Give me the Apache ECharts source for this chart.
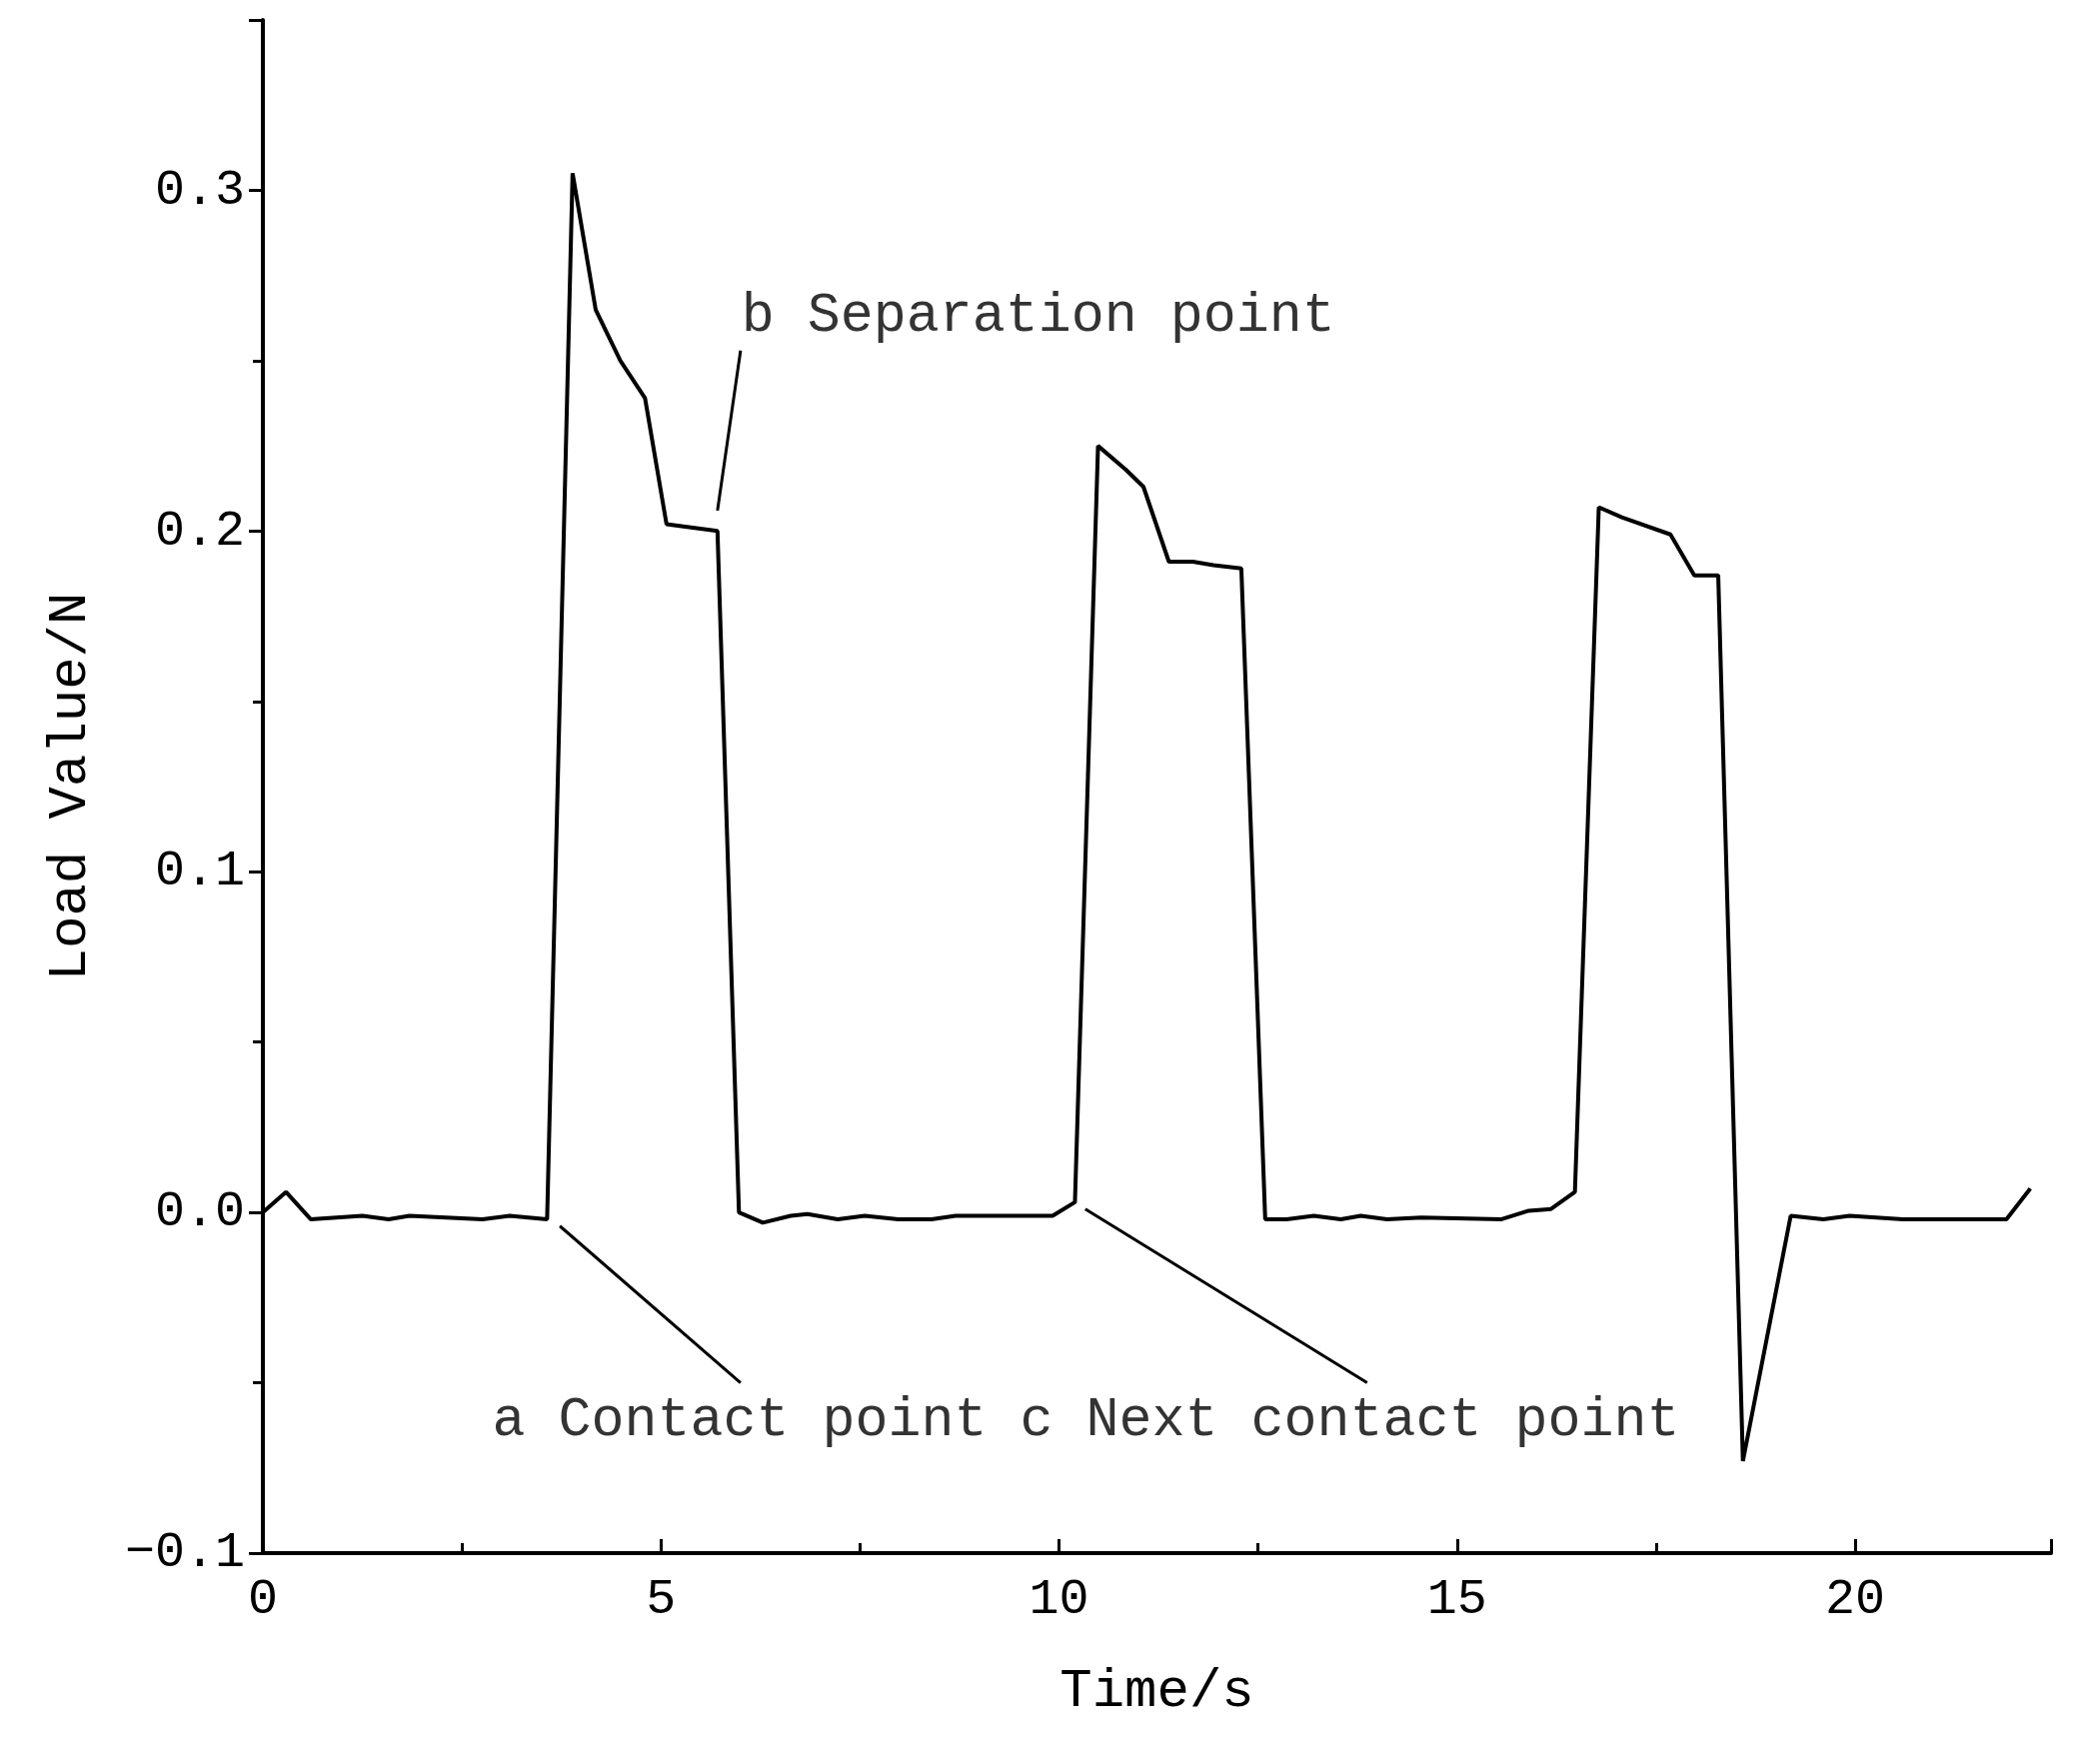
<!DOCTYPE html>
<html><head><meta charset="utf-8">
<script src="https://cdn.jsdelivr.net/npm/echarts@6/dist/echarts.min.js"></script>
<style>html,body{margin:0;background:#fff}#c{width:2092px;height:1765px}</style>
</head><body><div id="c"></div>
<script>
// load curve
const times = [0,0.29,0.6,1.25,1.58,1.84,2.76,3.1,3.57,3.89,4.18,4.49,4.8,5.07,5.71,5.98,6.28,6.63,6.84,7.22,7.56,7.98,8.4,8.7,9.92,10.2,10.49,10.84,11.06,11.38,11.68,11.94,12.29,12.59,12.86,13.2,13.54,13.79,14.12,14.55,15.56,15.9,16.18,16.48,16.78,17.07,17.68,17.98,18.28,18.59,19.19,19.6,19.93,20.6,21.3,21.9,22.2];
const loads = [0,0.006,-0.002,-0.001,-0.002,-0.001,-0.002,-0.001,-0.002,0.305,0.265,0.25,0.239,0.202,0.2,0,-0.003,-0.001,-0.0005,-0.002,-0.001,-0.002,-0.002,-0.001,-0.001,0.003,0.225,0.218,0.213,0.191,0.191,0.19,0.189,-0.002,-0.002,-0.001,-0.002,-0.001,-0.002,-0.0015,-0.002,0.0005,0.001,0.006,0.207,0.204,0.199,0.187,0.187,-0.073,-0.001,-0.002,-0.001,-0.002,-0.002,-0.002,0.007];

const notes = [
  {text: 'a Contact point c Next contact point', at: [2.88, -0.061]},
  {text: 'b Separation point', at: [6.01, 0.263]}
];
const leaders = [
  [[3.73, -0.004], [6.0, -0.05]],
  [[5.71, 0.206], [6.0, 0.253]],
  [[10.33, 0.001], [13.87, -0.05]]
];

const font = 'Liberation Mono';
const chart = echarts.init(document.getElementById('c'));
const axisCommon = {
  axisLine: {show: true, onZero: false, lineStyle: {color: '#000', width: 4}},
  axisTick: {show: true, length: 14, lineStyle: {color: '#000', width: 3}},
  minorTick: {show: true, splitNumber: 2, length: 10, lineStyle: {color: '#000', width: 3}},
  splitLine: {show: false},
  axisLabel: {color: '#000', fontFamily: font, fontSize: 50, margin: 18},
  nameTextStyle: {color: '#000', fontFamily: font, fontSize: 54}
};
chart.setOption({
  animation: false,
  grid: {left: 263, right: 40, top: 20, bottom: 211},
  xAxis: Object.assign({}, axisCommon, {
    type: 'value', min: 0, max: 22.46, interval: 5,
    name: 'Time/s', nameLocation: 'middle', nameGap: 112,
    axisTick: Object.assign({}, axisCommon.axisTick, {inside: true}),
    minorTick: Object.assign({}, axisCommon.minorTick, {inside: true}),
    axisLabel: Object.assign({}, axisCommon.axisLabel, {margin: 22, formatter: v => v > 22 ? '' : v})
  }),
  yAxis: Object.assign({}, axisCommon, {
    type: 'value', min: -0.1, max: 0.35, interval: 0.1,
    name: 'Load Value/N', nameLocation: 'middle', nameGap: 165,
    axisLabel: Object.assign({}, axisCommon.axisLabel, {formatter: v => v > 0.31 ? '' : (v < 0 ? '\u22120.1' : v.toFixed(1))})
  }),
  series: [{
    type: 'line', symbol: 'none',
    data: times.map((t, i) => [t, loads[i]]),
    lineStyle: {color: '#000', width: 4},
    markLine: {
      silent: true, symbol: 'none',
      lineStyle: {color: '#000', width: 3, type: 'solid'},
      label: {show: false},
      data: leaders.map(l => [{coord: l[0]}, {coord: l[1]}])
    }
  }, {
    type: 'scatter', symbolSize: 0,
    data: notes.map(n => ({value: n.at, label: {formatter: n.text}})),
    label: {show: true, position: 'right', distance: 0, color: '#000', fontFamily: font, fontSize: 55}
  }]
});
</script></body></html>
